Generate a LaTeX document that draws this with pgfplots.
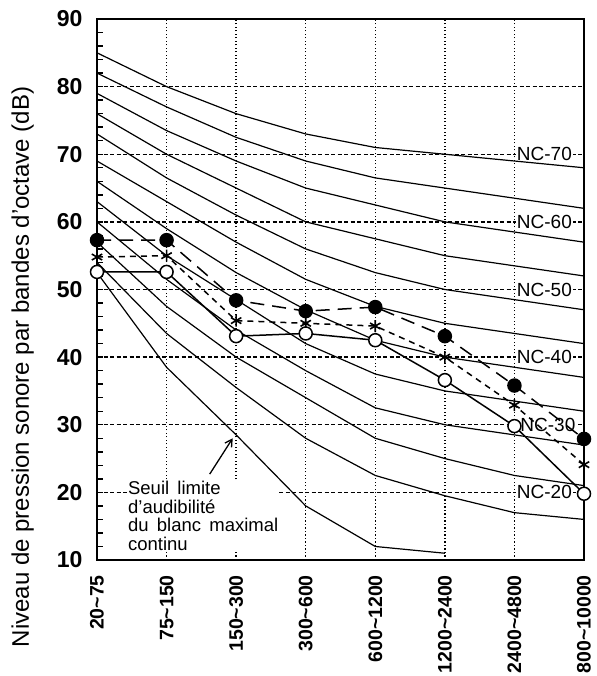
\documentclass[border=0pt]{standalone}
\usepackage{fontspec}
\setmainfont{Liberation Sans}
\usepackage{pgfplots}
\pgfplotsset{compat=1.18}
\usetikzlibrary{arrows.meta}

\begin{document}
\begin{tikzpicture}
\useasboundingbox (-97pt,-116pt) rectangle (499pt,560pt);
\begin{axis}[
  at={(0pt,0pt)}, anchor=south west,
  width=487pt, height=541pt, scale only axis,
  xmin=0, xmax=7, ymin=10, ymax=90,
  clip=false,
  xtick={0,...,7},
  xticklabels={20\textasciitilde75,75\textasciitilde150,150\textasciitilde300,300\textasciitilde600,600\textasciitilde1200,1200\textasciitilde2400,2400\textasciitilde4800,800\textasciitilde10000},
  ytick={10,20,...,90},
  yticklabel={\pgfmathprintnumber{\tick}\hspace*{11pt}},
  minor y tick num=4,
  tick align=inside,
  ytick pos=left,
  xtick pos=bottom,
  major tick length=6pt, minor tick length=6pt,
  tick style={black, line width=1.4pt},
  xtick style={draw=none},
  grid=major,
  x grid style={black, line width=1.3pt, dash pattern=on 1.3pt off 2.2pt},
  y grid style={black, line width=1.3pt, dash pattern=on 4pt off 2.5pt},
  axis line style={line width=2pt},
  /pgf/number format/assume math mode=true,
  yticklabel style={font=\fontsize{23}{23}\selectfont\bfseries},
  xticklabel style={font=\fontsize{19.5}{19.5}\selectfont\bfseries, rotate=90, anchor=east, inner sep=0pt},
  xticklabel shift=15pt,
]
% NC labels
\node[anchor=west, fill=white, inner sep=0.8pt, xshift=1.5pt, font=\fontsize{19}{19}\selectfont] at (axis cs:6,70) {NC-70};
\node[anchor=west, fill=white, inner sep=0.8pt, xshift=1.5pt, font=\fontsize{19}{19}\selectfont] at (axis cs:6,60) {NC-60};
\node[anchor=west, fill=white, inner sep=0.8pt, xshift=1.5pt, font=\fontsize{19}{19}\selectfont] at (axis cs:6,50) {NC-50};
\node[anchor=west, fill=white, inner sep=0.8pt, xshift=1.5pt, font=\fontsize{19}{19}\selectfont] at (axis cs:6,40) {NC-40};
\node[anchor=west, fill=white, inner sep=0.8pt, xshift=5pt, font=\fontsize{19}{19}\selectfont] at (axis cs:6,30) {NC-30};
\node[anchor=west, fill=white, inner sep=0.8pt, xshift=1.5pt, font=\fontsize{19}{19}\selectfont] at (axis cs:6,20) {NC-20};
% annotation
\node[anchor=north west, align=left, fill=white, inner sep=1pt, font=\fontsize{18.5}{18.5}\selectfont] at (axis cs:0.43,21.8) {Seuil\, limite\\d’audibilité\\du\, blanc\, maximal\\continu};
\draw[-{Straight Barb[length=7pt,width=8pt]}, line width=1.3pt] (axis cs:1.62,22.7) -- (axis cs:1.95,28.0);

% NC curves
\addplot[black, line width=1.2pt] coordinates {(0,85) (1,80) (2,76) (3,73) (4,71) (5,70) (6,69) (7,68)};
\addplot[black, line width=1.2pt] coordinates {(0,82) (1,77) (2,72.5) (3,69) (4,66.5) (5,65) (6,63.5) (7,62)};
\addplot[black, line width=1.2pt] coordinates {(0,79) (1,73.5) (2,69) (3,65) (4,62.5) (5,60) (6,58.5) (7,57)};
\addplot[black, line width=1.2pt] coordinates {(0,76) (1,70) (2,65) (3,60) (4,57.5) (5,55) (6,53.5) (7,52)};
\addplot[black, line width=1.2pt] coordinates {(0,73) (1,66.5) (2,61) (3,56) (4,52.5) (5,50) (6,48.5) (7,47)};
\addplot[black, line width=1.2pt] coordinates {(0,69) (1,63) (2,57) (3,51.5) (4,47.5) (5,45) (6,43.5) (7,42)};
\addplot[black, line width=1.2pt] coordinates {(0,66) (1,59) (2,52.5) (3,47) (4,42.5) (5,40) (6,38.5) (7,37)};
\addplot[black, line width=1.2pt] coordinates {(0,63) (1,55) (2,48.5) (3,42) (4,37.5) (5,35) (6,33.5) (7,32)};
\addplot[black, line width=1.2pt] coordinates {(0,60) (1,51.5) (2,44) (3,38) (4,32.5) (5,30) (6,28.5) (7,27)};
\addplot[black, line width=1.2pt] coordinates {(0,57) (1,47.5) (2,40) (3,34) (4,28) (5,25) (6,22.5) (7,21)};
\addplot[black, line width=1.2pt] coordinates {(0,54) (1,43.5) (2,35.5) (3,28) (4,22.5) (5,19.5) (6,17) (7,16)};
% threshold
\addplot[black, line width=1.2pt] coordinates {(0,52.5) (1,38.5) (2,28.5) (3,18) (4,12) (5,11)};

% measured series
\addplot[black, line width=1.5pt, dash pattern=on 14pt off 8pt, mark=*, mark size=6.5pt, mark options={solid, fill=black}]
  coordinates {(0,57.3) (1,57.3) (2,48.4) (3,46.8) (4,47.4) (5,43.1) (6,35.8) (7,27.9)};
\addplot[black, line width=1.5pt, dash pattern=on 6pt off 5pt, mark=asterisk, mark size=6pt, mark options={solid, line width=1.6pt}]
  coordinates {(0,54.8) (1,55.0) (2,45.4) (3,45.0) (4,44.6) (5,40.0) (6,32.9) (7,24.1)};
\addplot[black, line width=1.5pt, mark=*, mark size=6.5pt, mark options={solid, fill=white, draw=black, line width=1.5pt}]
  coordinates {(0,52.6) (1,52.6) (2,43.1) (3,43.5) (4,42.5) (5,36.6) (6,29.8) (7,19.8)};
\end{axis}
\node[rotate=90, anchor=base, font=\fontsize{24}{24}\selectfont] at (-68pt,193pt) {Niveau de pression sonore par bandes d’octave (dB)};
\end{tikzpicture}
\end{document}
